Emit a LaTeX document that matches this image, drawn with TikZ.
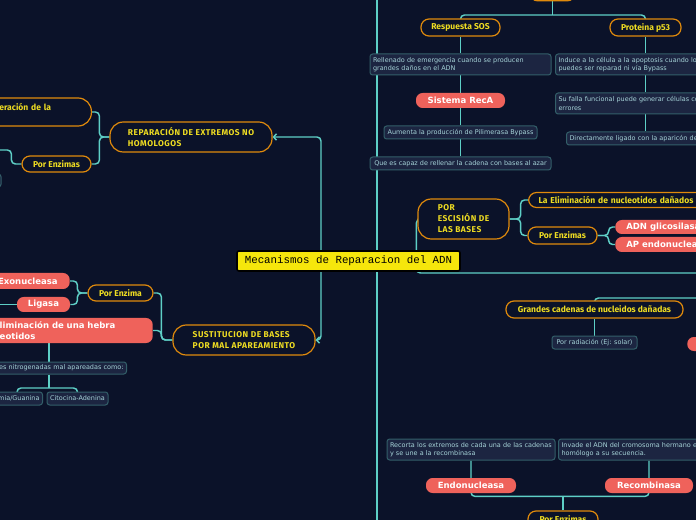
\documentclass[tikz,border=0pt]{standalone}
\usepackage{fontspec}
\setmainfont{DejaVu Sans}
\newfontfamily\lblf{Fira Sans}
\newfontfamily\capf[LetterSpace=6]{Fira Sans}
\newfontfamily\descf{DejaVu Sans}
\newfontfamily\redf{DejaVu Sans}
\newfontfamily\centf{Liberation Mono}
\usetikzlibrary{arrows.meta,calc}
\definecolor{bgC}{HTML}{0B1229}
\definecolor{lnC}{HTML}{5ECFC6}
\definecolor{orC}{HTML}{E08A0C}
\definecolor{ylC}{HTML}{EEDC22}
\definecolor{dfC}{HTML}{1C2541}
\definecolor{dbC}{HTML}{335F69}
\definecolor{dtC}{HTML}{A6D3D8}
\definecolor{rdC}{HTML}{EF625B}
\definecolor{ceC}{HTML}{F6E60C}
\pgfdeclarelayer{bg}\pgfdeclarelayer{lines}\pgfsetlayers{bg,lines,main}
\tikzset{
  cent/.style={draw=black, line width=1.2pt, fill=ceC, rounded corners=1.5pt, text=black, font=\centf\fontsize{8.1}{9}\selectfont, inner sep=0pt},
  lbl/.style={draw=orC, fill=bgC, line width=0.9pt, rounded corners=6pt, text=ylC, font=\lblf\bfseries\fontsize{6.4}{8}\selectfont, inner sep=0pt, align=left},
  lblbig/.style={lbl, rounded corners=10pt, font=\capf\bfseries\fontsize{6.3}{8.2}\selectfont},
  desc/.style={draw=dbC, fill=dfC, line width=0.75pt, rounded corners=2pt, text=dtC, font=\descf\fontsize{4.85}{6.1}\selectfont, inner xsep=2.25pt, inner ysep=0pt},
  redp/.style={fill=rdC, rounded corners=5pt, text=white, font=\redf\bfseries\fontsize{6.4}{7.8}\selectfont, inner sep=0pt, align=left},
  ln/.style={draw=lnC, line width=1.1pt, rounded corners=3pt},
  arr/.style={-{Straight Barb[length=2.2pt,width=4.8pt]}}
}
\begin{document}
\begin{tikzpicture}[x=0.75pt,y=-0.75pt]
\useasboundingbox (0,0) rectangle (696,520);
\begin{pgfonlayer}{bg}
\fill[bgC] (0,0) rectangle (696,520);
\end{pgfonlayer}
\begin{scope}
\clip (0,0) rectangle (696,520);
% central
\node[cent, minimum width=167.25pt, minimum height=15pt] (C) at (348.5,261) {Mecanismos de Reparacion del ADN};
% orange labels
\node[lblbig, minimum width=121.5pt, minimum height=22.5pt] (REP) at (191,137) {REPARACIÓN DE EXTREMOS NO\\HOMOLOGOS};
\node[lbl, rounded corners=10pt, anchor=east, minimum height=21pt, text width=54.75pt, inner xsep=14.25pt] (ERA) at (92,112) {eración de la\\\mbox{}};
\node[lblbig, minimum width=68.25pt, minimum height=30pt] (ESC) at (463.5,219) {POR\\ESCISIÓN DE\\LAS BASES};
\node[lblbig, minimum width=106.5pt, minimum height=22.5pt] (SUST) at (244,340) {SUSTITUCION DE BASES\\POR MAL APAREAMIENTO};
\node[lbl, minimum width=51.75pt, minimum height=12pt] (PE1) at (56.5,164) {Por Enzimas};
\node[lbl, minimum width=48.75pt, minimum height=12pt] (PE2) at (120.5,293) {Por Enzima};
\node[lbl, minimum width=59.25pt, minimum height=12.75pt] (SOS) at (460.5,27.5) {Respuesta SOS};
\node[lbl, minimum width=53.25pt, minimum height=12.75pt] (P53) at (645.5,27.5) {Proteina p53};
\node[lbl, anchor=west, minimum height=11.25pt, text width=135pt, inner xsep=7.5pt] (LAE) at (528,200) {La Eliminación de nucleotidos dañados};
\node[lbl, minimum width=51.75pt, minimum height=12.75pt] (PE3) at (562.5,235.5) {Por Enzimas};
\node[lbl, minimum width=132.75pt, minimum height=12.75pt] (GC) at (594.5,309.5) {Grandes cadenas de nucleidos dañadas};
\node[lbl, minimum width=52.5pt, minimum height=12.75pt] (PE4) at (563,519.5) {Por Enzimas};
\node[lbl, anchor=south, minimum width=33.75pt, minimum height=18pt, line width=1.3pt] (TOP) at (552.5,1.5) {};
% red pills
\node[redp, anchor=east, minimum height=12pt, inner xsep=9pt] (EXO) at (70,281) {Exonucleasa};
\node[redp, minimum width=39.75pt, minimum height=11.25pt] (LIG) at (43.5,304.5) {Ligasa};
\node[redp, anchor=east, minimum height=18.75pt, text width=105.75pt, inner xsep=9pt] (ELI) at (153,330.5) {liminación de una hebra\\eotidos};
\node[redp, minimum width=66.75pt, minimum height=11.25pt] (RECA) at (460.5,100.5) {Sistema RecA};
\node[redp, anchor=west, minimum height=10.5pt, inner xsep=8.25pt] (ADNG) at (615,227) {ADN glicosilasa};
\node[redp, anchor=west, minimum height=11.25pt, inner xsep=8.25pt] (APE) at (615,244.5) {AP endonucleasa};
\node[redp, minimum width=67.5pt, minimum height=11.25pt] (END) at (471,485.5) {Endonucleasa};
\node[redp, minimum width=66pt, minimum height=11.25pt] (RECO) at (649,485.5) {Recombinasa};
\node[redp, anchor=west, minimum width=22.5pt, minimum height=10.5pt] (RPART) at (687,344) {};
% descriptions
\node[desc, minimum height=15.75pt, text width=131.25pt, align=left] (d1) at (460.5,64.5) {Rellenado de emergencia cuando se producen\\grandes daños en el ADN};
\node[desc, minimum width=114.75pt, minimum height=9.75pt, align=center] (d2) at (460.5,132.5) {Aumenta la producción de Pilimerasa Bypass};
\node[desc, minimum width=135.75pt, minimum height=9.75pt, align=center] (d3) at (460.5,163.5) {Que es capaz de rellenar la cadena con bases al azar};
\node[desc, anchor=west, minimum height=15.75pt, text width=140pt, align=left] (d4) at (555,64.5) {Induce a la célula a la apoptosis cuando lo\\puedes ser reparad ni vía Bypass};
\node[desc, anchor=west, minimum height=15.75pt, text width=140pt, align=left] (d5) at (555,103.5) {Su falla funcional puede generar células co\\errores};
\node[desc, anchor=west, minimum height=9.75pt, text width=140pt, align=left] (d6) at (566,138.5) {Directamente ligado con la aparicón de};
\node[desc, minimum width=63.75pt, minimum height=9.75pt, align=center] (d7) at (594.5,342.5) {Por radiación (Ej: solar)};
\node[desc, minimum height=15.75pt, text width=121.5pt, align=left] (d8) at (471,449.5) {Recorta los extremos de cada una de las cadenas\\y se une a la recombinasa};
\node[desc, anchor=west, minimum height=15.75pt, text width=140pt, align=left] (d9) at (558,449.5) {Invade el ADN del cromosoma hermano e\\homólogo a su secuencia.};
\node[desc, anchor=east, minimum height=9pt, text width=110pt, align=right] (d10) at (127,368) {es nitrogenadas mal apareadas como:};
\node[desc, anchor=east, minimum height=9.75pt, text width=60pt, align=right] (d11) at (43,398.5) {mia/Guanina};
\node[desc, minimum width=45.75pt, minimum height=9.75pt, align=center] (d12) at (77.5,398.5) {Citocina-Adenina};
\node[desc, anchor=east, minimum width=30pt, minimum height=9.75pt] (d13) at (1.5,180.5) {};
\end{scope}
\begin{pgfonlayer}{lines}
\clip (0,0) rectangle (696,520);
\coordinate (trT) at (377,-5);
\coordinate (trB) at (377,525);
\draw[ln] (trT) -- (trB);
\coordinate (tx) at (321,0);
\draw[ln,arr] (tx |- C.north) |- (REP.east);
\draw[ln,arr] (tx |- C.south) |- (SUST.east);
\coordinate (r1) at (705,273);
\draw[ln,arr] (r1) -| ($(ESC.west)+(-1,0)$) -- (ESC.west);
\coordinate (r2) at (705,298);
\draw[ln] (r2) -| (GC.north);
\draw[ln] (GC.south) -- (d7.north);
\draw[ln] (SOS.north) |- ($(TOP.south)+(0,13.5)$) -| (P53.north);
\draw[ln] (TOP.south) -- ++(0,13.5);
\draw[ln] (SOS.south) -- (d1.north);
\draw[ln] (d1.south) -- (RECA.north);
\draw[ln] (RECA.south) -- (d2.north);
\draw[ln] (d2.south) -- (d3.north);
\draw[ln] (P53.south) -- (P53.south |- d4.north);
\draw[ln] (P53.south |- d4.south) -- (P53.south |- d5.north);
\draw[ln] (P53.south |- d5.south) -- (P53.south |- d6.north);
\draw[ln] (ESC.east) -- ++(11,0) |- (LAE.west);
\draw[ln] (ESC.east) -- ++(11,0) |- (PE3.west);
\draw[ln] (PE3.east) -- ++(11,0) |- (ADNG.west);
\draw[ln] (PE3.east) -- ++(11,0) |- (APE.west);
\coordinate (jb) at ($(PE4.north)+(0,-14)$);
\draw[ln] (d8.south) |- (jb) -| (RECO |- d9.south);
\draw[ln] (PE4.north) -- (jb);
\draw[ln] (REP.west) -- ++(-10,0) |- (ERA.east);
\draw[ln] (REP.west) -- ++(-10,0) |- (PE1.east);
\coordinate (l1) at (-5,150);
\draw[ln] (PE1.west) -- ++(-10,0) |- (l1);
\draw[ln] (SUST.west) -- ++(-11,0) |- (PE2.east);
\draw[ln] (SUST.west) -- ++(-11,0) |- (ELI.east);
\draw[ln] (PE2.west) -- ++(-10,0) |- (EXO.east);
\draw[ln] (PE2.west) -- ++(-10,0) |- (LIG.east);
\coordinate (l2) at (-5,304.5);
\draw[ln] (LIG.west) -- (l2);
\coordinate (cx) at (49,0);
\draw[ln] (cx |- ELI.south) -- (cx |- d10.north);
\coordinate (jl) at (49,388);
\coordinate (c11) at (17,0);
\draw[ln] (cx |- d10.south) -- (jl);
\draw[ln] (c11 |- d11.north) |- (jl) -| (d12.north);
\end{pgfonlayer}
\end{tikzpicture}
\end{document}
